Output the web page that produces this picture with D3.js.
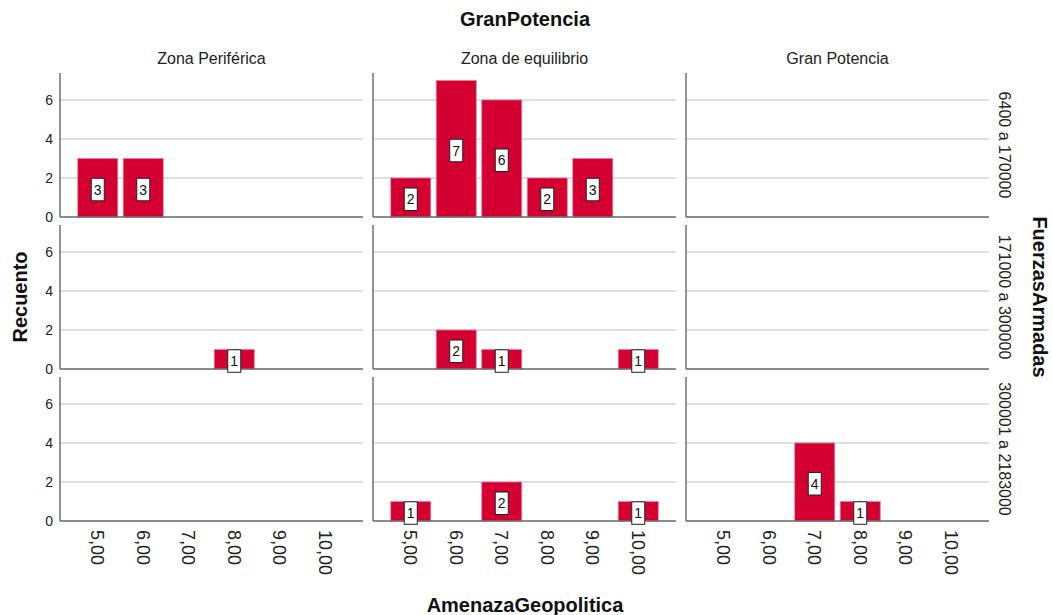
<!DOCTYPE html>
<html>
<head>
<meta charset="utf-8">
<script src="https://cdn.jsdelivr.net/npm/d3@7"></script>
<style>
	body { margin: 0; background: #fff; }
	svg { font-family: "Liberation Sans", Arial, sans-serif; }
</style>
</head>
<body>
<svg id="chart" width="1052" height="615"></svg>
<script>
	//chart data
var categories = ["5,00", "6,00", "7,00", "8,00", "9,00", "10,00"];
var columns = ["Zona Periférica", "Zona de equilibrio", "Gran Potencia"];
var rows = ["6400 a 170000", "171000 a 300000", "300001 a 2183000"];
var yTicks = [0, 2, 4, 6];

	//counts per row, one list per column
var countsRow1 = [[3, 3, 0, 0, 0, 0], [2, 7, 6, 2, 3, 0], [0, 0, 0, 0, 0, 0]];
var countsRow2 = [[0, 0, 0, 1, 0, 0], [0, 2, 1, 0, 0, 1], [0, 0, 0, 0, 0, 0]];
var countsRow3 = [[0, 0, 0, 0, 0, 0], [1, 0, 2, 0, 0, 1], [0, 0, 4, 1, 0, 0]];
var counts = [countsRow1, countsRow2, countsRow3];

var svg = d3.select("#chart");

var panelW = 303, panelH = 144;
var colLeft = [60, 373, 686];
var rowTop = [73, 225, 377];

var x = d3.scaleBand()
	.domain(categories)
	.range([15, 288])
	.paddingInner(0.12)
	.paddingOuter(0.06);

var y = d3.scaleLinear()
	.domain([0, 7.38])
	.range([panelH, 0]);

rows.forEach(function(rowName, ri) {
	columns.forEach(function(colName, ci) {
		var g = svg.append("g")
			.attr("transform", "translate(" + colLeft[ci] + "," + rowTop[ri] + ")");

		//gridlines
		g.selectAll(".grid")
			.data(yTicks.filter(function(d) { return d > 0; }))
			.enter().append("line")
			.attr("x1", 0).attr("x2", panelW)
			.attr("y1", function(d) { return y(d); })
			.attr("y2", function(d) { return y(d); })
			.attr("stroke", "#d4d4d4")
			.attr("stroke-width", 1.6);

		var data = counts[ri][ci].map(function(v, i) { return { cat: categories[i], value: v }; })
			.filter(function(d) { return d.value > 0; });

		g.selectAll(".bar")
			.data(data)
			.enter().append("rect")
			.attr("x", function(d) { return x(d.cat); })
			.attr("y", function(d) { return y(d.value); })
			.attr("width", x.bandwidth())
			.attr("height", function(d) { return panelH - y(d.value); })
			.attr("fill", "#d50032")
			.attr("stroke", "#e8849c")
			.attr("stroke-width", 0.8);

		//axes lines
		g.append("line")
			.attr("x1", 0).attr("x2", 0).attr("y1", 0).attr("y2", panelH)
			.attr("stroke", "#666").attr("stroke-width", 1.4);
		g.append("line")
			.attr("x1", 0).attr("x2", panelW).attr("y1", panelH).attr("y2", panelH)
			.attr("stroke", "#666").attr("stroke-width", 1.4);

		//value labels
		var lab = g.selectAll(".lab")
			.data(data)
			.enter().append("g")
			.attr("transform", function(d) {
				return "translate(" + (x(d.cat) + x.bandwidth() / 2) + "," + ((y(d.value) + panelH) / 2 + 1.8) + ")";
			});
		lab.append("rect")
			.attr("x", -6.5).attr("y", -11.25)
			.attr("width", 13).attr("height", 22.5)
			.attr("fill", "#fff")
			.attr("stroke", "#222")
			.attr("stroke-width", 1);
		lab.append("text")
			.attr("text-anchor", "middle")
			.attr("dy", "0.36em")
			.attr("font-size", 14)
			.attr("fill", "#111")
			.text(function(d) { return d.value; });

		//y tick labels on first column
		if (ci == 0) {
			g.selectAll(".ytick")
				.data(yTicks)
				.enter().append("text")
				.attr("x", -7)
				.attr("y", function(d) { return y(d); })
				.attr("dy", "0.36em")
				.attr("text-anchor", "end")
				.attr("font-size", 14)
				.attr("fill", "#222")
				.text(function(d) { return d; });
		}

		//x tick labels on last row
		if (ri == rows.length - 1) {
			g.selectAll(".xtick")
				.data(categories)
				.enter().append("text")
				.attr("transform", function(d) {
					return "translate(" + (x(d) + x.bandwidth() / 2) + "," + (panelH + 9) + ") rotate(90)";
				})
				.attr("dy", "0.36em")
				.attr("text-anchor", "start")
				.attr("font-size", 18)
				.attr("fill", "#222")
				.text(function(d) { return d; });
		}

		//column headers
		if (ri == 0) {
			svg.append("text")
				.attr("x", colLeft[ci] + panelW / 2)
				.attr("y", 64)
				.attr("text-anchor", "middle")
				.attr("font-size", 16)
				.attr("fill", "#222")
				.text(colName);
		}
	});

	//row labels
	svg.append("text")
		.attr("transform", "translate(1005," + (rowTop[ri] + panelH / 2) + ") rotate(90)")
		.attr("text-anchor", "middle")
		.attr("dy", "0.36em")
		.attr("font-size", 16)
		.attr("fill", "#222")
		.text(rowName);
});

	//titles
svg.append("text")
	.attr("x", 525).attr("y", 26)
	.attr("text-anchor", "middle")
	.attr("font-size", 20).attr("font-weight", "bold")
	.attr("fill", "#111")
	.text("GranPotencia");

svg.append("text")
	.attr("x", 525).attr("y", 612)
	.attr("text-anchor", "middle")
	.attr("font-size", 20).attr("font-weight", "bold")
	.attr("fill", "#111")
	.text("AmenazaGeopolitica");

svg.append("text")
	.attr("transform", "translate(20,297) rotate(-90)")
	.attr("text-anchor", "middle")
	.attr("dy", "0.36em")
	.attr("font-size", 20).attr("font-weight", "bold")
	.attr("fill", "#111")
	.text("Recuento");

svg.append("text")
	.attr("transform", "translate(1040,297) rotate(90)")
	.attr("text-anchor", "middle")
	.attr("dy", "0.36em")
	.attr("font-size", 20).attr("font-weight", "bold")
	.attr("fill", "#111")
	.text("FuerzasArmadas");
</script>
</body>
</html>
